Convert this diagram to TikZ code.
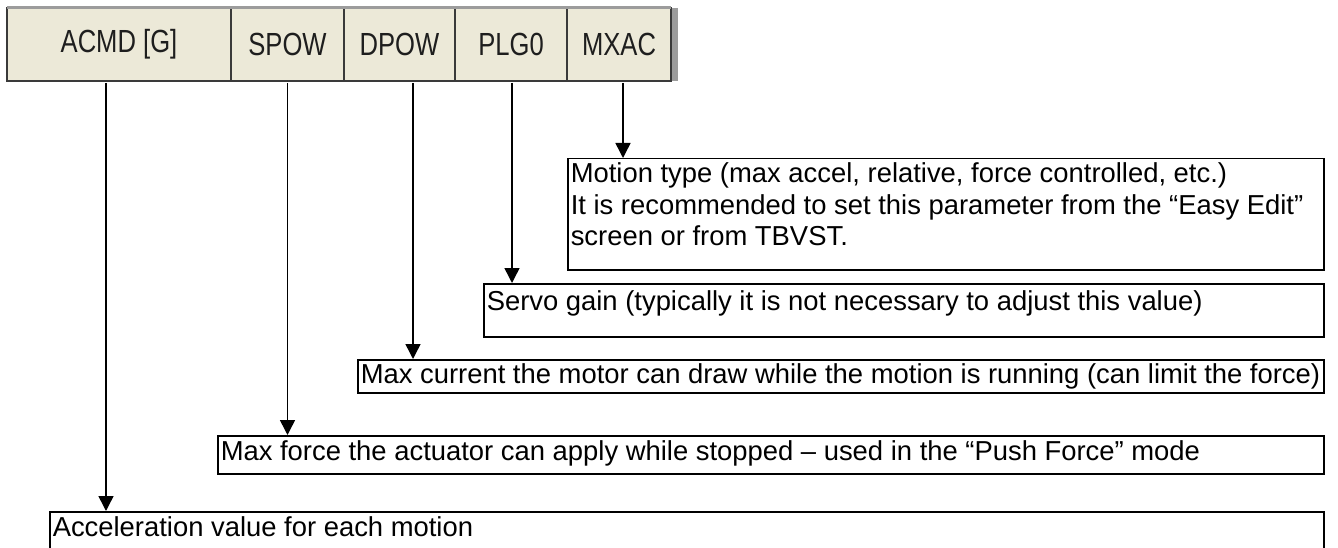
\documentclass[tikz,border=0pt]{standalone}
\usepackage{graphicx}
\usepackage{fontspec}
\setmainfont{Liberation Sans}
\usetikzlibrary{arrows.meta,positioning}

\definecolor{hdrbg}{HTML}{ECE9D8}
\definecolor{hdrline}{HTML}{3A3A3A}
\definecolor{hdrtext}{HTML}{1E1E1E}
\definecolor{hdrframe}{HTML}{9C9C9C}

% fixed-size box, text set from its top
\newcommand{\notetxt}[4][2pt]{\parbox[t][#3][t]{#2}{\vspace*{#1}\strut#4}}
\newcommand{\hdrtxt}[1]{\scalebox{0.8}[1]{#1}}

\begin{document}
\begin{tikzpicture}[x=1pt, y=-1pt, >={Triangle[width=15pt,length=15pt]},
  hdr/.style={draw=hdrline, line width=1.5pt, fill=hdrbg, minimum height=73pt,
    inner sep=0pt, outer sep=0pt, anchor=north west, text=hdrtext,
    font=\fontsize{32}{32}\selectfont},
  note/.style={draw, line width=1.5pt, anchor=north west, inner xsep=3pt,
    inner ysep=0pt, font=\fontsize{27.4}{31.5}\selectfont},
  lead/.style={->, line width=1.5pt}]
\useasboundingbox (0,0) rectangle (1338,548);
\clip (0,0) rectangle (1338,548);

% header bar
\node[hdr, minimum width=224pt] (acmd) at (7,8) {\hdrtxt{ACMD [G]}};
\node[hdr, minimum width=113pt, right=0pt of acmd.north east, anchor=north west] (spow) {\hdrtxt{SPOW}};
\node[hdr, minimum width=111pt, right=0pt of spow.north east, anchor=north west] (dpow) {\hdrtxt{DPOW}};
\node[hdr, minimum width=112pt, right=0pt of dpow.north east, anchor=north west] (plgo) {\hdrtxt{PLG0}};
\node[hdr, minimum width=104pt, right=0pt of plgo.north east, anchor=north west] (mxac) {\hdrtxt{MXAC}};
\draw[hdrframe, line width=3pt] (acmd.north west) -- (mxac.north east);
\draw[hdrframe, line width=6pt] ([xshift=4pt]mxac.north east) -- ([xshift=4pt]mxac.south east);

% description boxes
\node[note] (motion) at (567,158) {\notetxt{750pt}{111pt}{\mbox{Motion type (max accel, relative, force controlled, etc.)}\\
  \mbox{It is recommended to set this parameter from the “Easy Edit”}\\
  \mbox{screen or from TBVST.}}};
\node[note] (servo) at (483,283) {\notetxt[5pt]{834pt}{53pt}{\mbox{Servo gain (typically it is not necessary to adjust this value)}}};
\node[note] (current) at (357,359) {\notetxt{960pt}{33pt}{\mbox{Max current the motor can draw while the motion is running (can limit the force)}}};
\node[note] (force) at (217,435) {\notetxt[3pt]{1100pt}{38pt}{\mbox{Max force the actuator can apply while stopped – used in the “Push Force” mode}}};
\node[note] (accel) at (49,511) {\notetxt[3pt]{1268pt}{60pt}{\mbox{Acceleration value for each motion}}};

% leader arrows
\draw[lead] ([xshift=-13pt,yshift=-2pt]acmd.south) -- ([xshift=-13pt]acmd.south |- accel.north);
\draw[lead] ([yshift=-2pt]spow.south) -- (spow.south |- force.north);
\draw[lead] ([xshift=13.5pt,yshift=-2pt]dpow.south) -- ([xshift=13.5pt]dpow.south |- current.north);
\draw[lead] ([xshift=1pt,yshift=-2pt]plgo.south) -- ([xshift=1pt]plgo.south |- servo.north);
\draw[lead] ([xshift=4pt,yshift=-2pt]mxac.south) -- ([xshift=4pt]mxac.south |- motion.north);
\end{tikzpicture}
\end{document}
